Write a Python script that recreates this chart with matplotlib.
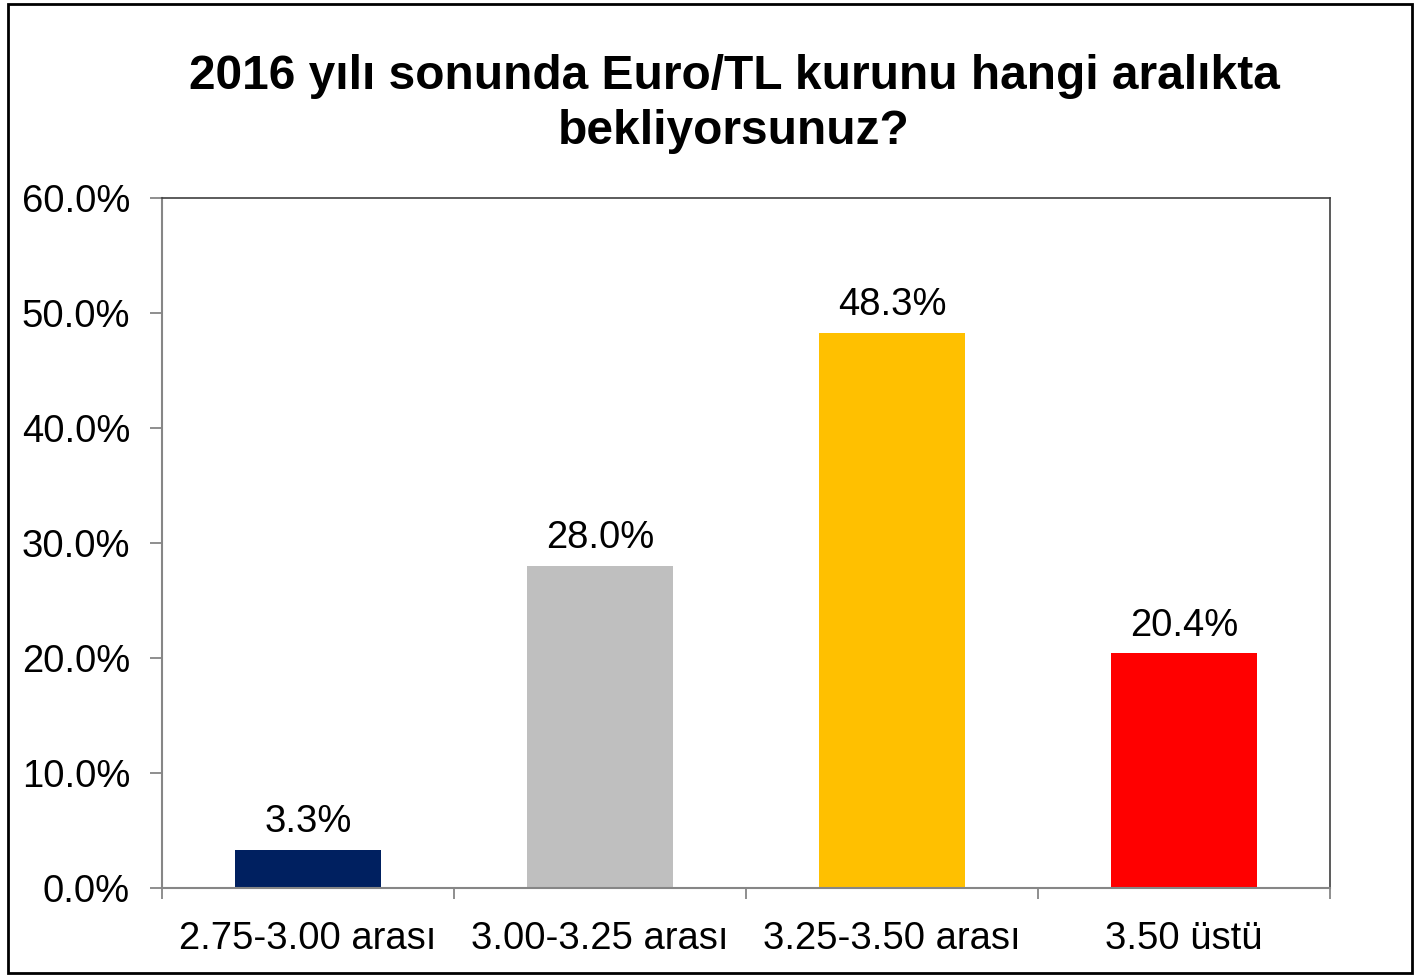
import matplotlib
matplotlib.use("Agg")
import matplotlib.pyplot as plt
from matplotlib.patches import Rectangle
from matplotlib.ticker import FuncFormatter, FixedLocator

categories = ["2.75-3.00 arası", "3.00-3.25 arası", "3.25-3.50 arası", "3.50 üstü"]
values = [3.3, 28.0, 48.3, 20.4]
colors = ["#002060", "#BFBFBF", "#FFC000", "#FF0000"]
title = "2016 yılı sonunda Euro/TL kurunu hangi aralıkta\nbekliyorsunuz?"
yticks = [0, 10, 20, 30, 40, 50, 60]

plt.rcParams['font.family'] = ['Liberation Sans', 'DejaVu Sans']

W, H = 1424, 977
fig = plt.figure(figsize=(W / 100, H / 100), dpi=100)
ax = fig.add_axes([162 / W, 1 - 888 / H, (1330 - 162) / W, (888 - 198) / H])

x = list(range(len(categories)))
ax.bar(x, values, width=0.5, color=colors, zorder=2)
for xi, v in zip(x, values):
    ax.annotate(f"{v:.1f}%", (xi, v), xytext=(0, 7), textcoords="offset points",
                ha="center", va="bottom", fontsize=27.5)

ax.set_xlim(-0.5, len(categories) - 0.5)
ax.set_ylim(0, 60)
ax.set_yticks(yticks)
ax.yaxis.set_major_formatter(FuncFormatter(lambda v, p: f"{v:.1f}%"))
ax.set_xticks(x)
ax.set_xticklabels(categories)
ax.xaxis.set_minor_locator(FixedLocator([i - 0.5 for i in range(len(categories) + 1)]))

ax.tick_params(axis="y", labelsize=27.5, length=9, width=1.3, color="#868686", pad=14)
ax.tick_params(axis="x", which="major", labelsize=27.5, length=0, pad=24)
ax.tick_params(axis="x", which="minor", length=8, width=1.3, color="#868686")

for s in ["left", "bottom"]:
    ax.spines[s].set_color("#868686")
    ax.spines[s].set_linewidth(1.5)
for s in ["top", "right"]:
    ax.spines[s].set_color("#404040")
    ax.spines[s].set_linewidth(1.2)

fig.text(734 / W, 1 - 104 / H, title, ha="center", va="center", fontsize=34.5,
         fontweight="bold", linespacing=1.27)

fig.patches.append(Rectangle((8 / W, 4 / H), (1412 - 8) / W, (973 - 4) / H,
                             transform=fig.transFigure, fill=False,
                             edgecolor="black", linewidth=2))

fig.savefig("out.png", dpi=100)
